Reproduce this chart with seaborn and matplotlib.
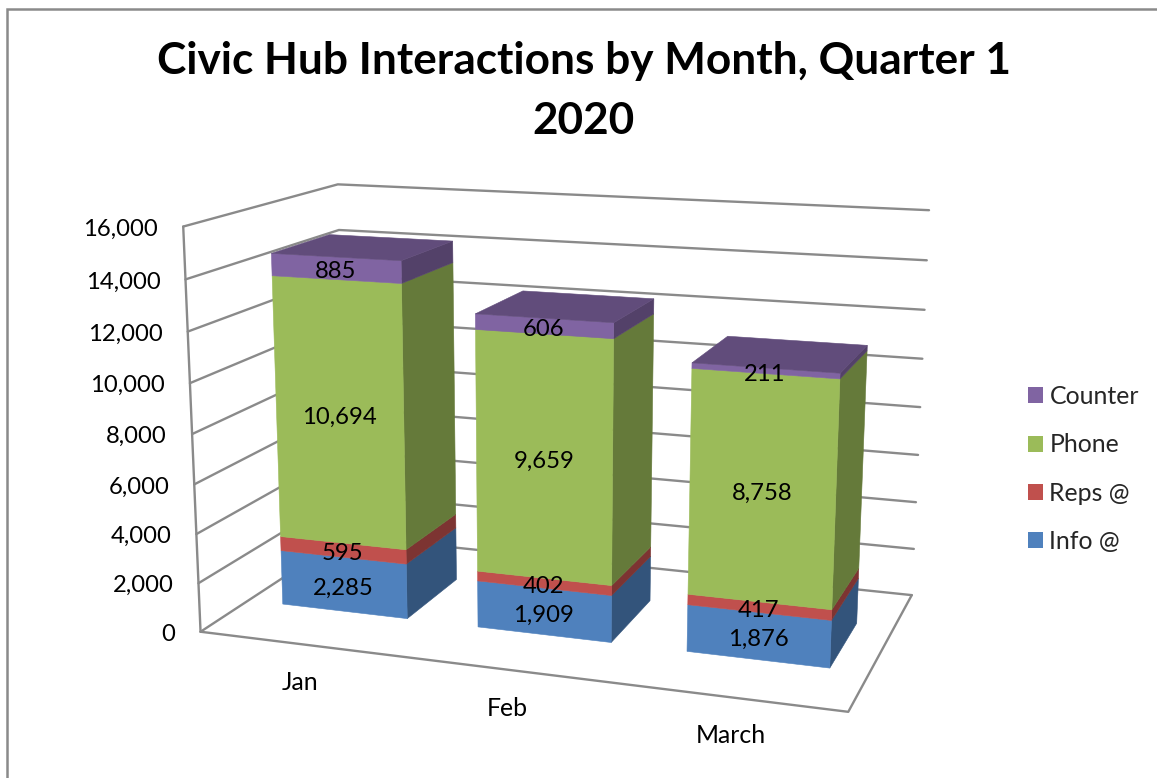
import numpy as np
import pandas as pd
import matplotlib
matplotlib.use("Agg")
import matplotlib.pyplot as plt
from matplotlib.patches import Patch, Polygon
import seaborn as sns

# Chart data
months = ["Jan", "Feb", "March"]
series_names = ["Info @", "Reps @", "Phone", "Counter"]
info = [2285, 1909, 1876]
reps = [595, 402, 417]
phone = [10694, 9659, 8758]
counter = [885, 606, 211]
axis_ticks = [0, 2000, 4000, 6000, 8000, 10000, 12000, 14000, 16000]
chart_title = "Civic Hub Interactions by Month, Quarter 1\n2020"

sns.set_theme(style="white")
plt.rcParams["font.family"] = ["Lato", "DejaVu Sans"]
palette = sns.color_palette(["#4F81BD", "#C0504D", "#9BBB59", "#8064A2"])
line_gray = "#8A8A8A"
AXIS_MAX = 16000.0
BAR_WIDTH = 0.215
BAR_SHIFT = 0.001
DEPTH_FRONT, DEPTH_BACK = 0.30, 0.69
TEXT_DROP = 2.5
VALUE_DROP = 3.5
NUMBER_SIZE = 17.2
WORD_SIZE = 17.9

fig = plt.figure(figsize=(11.57, 7.78), dpi=100)
ax = fig.add_axes([0, 0, 1, 1])
ax.set_xlim(0, 1157)
ax.set_ylim(778, 0)


def camera_matrix():
    """Projective camera for the 3-D plot box (across, height, depth)."""
    box = [(0, 0, 0), (1, 0, 0), (1, 0, 1), (0, 0, 1), (0, 1, 0), (0, 1, 1), (1, 1, 1)]
    screen = [(201, 633), (848, 711), (912, 596), (346, 535), (183, 226), (338, 185), (929, 210)]
    rows = []
    for (u, v, w), (x, y) in zip(box, screen):
        rows.append([u, v, w, 1, 0, 0, 0, 0, -x * u, -x * v, -x * w, -x])
        rows.append([0, 0, 0, 0, u, v, w, 1, -y * u, -y * v, -y * w, -y])
    return np.linalg.svd(np.array(rows, float))[2][-1].reshape(3, 4)


CAMERA = camera_matrix()


def project(u, value, w):
    h = CAMERA @ np.array([u, value / AXIS_MAX, w, 1.0])
    return h[:2] / h[2]


# Walls and floor: one polyline per gridline, running front-left, back-left, back-right
wall_rows = []
for tick in axis_ticks:
    for u, w in [(0, 0), (0, 1), (1, 1)]:
        px, py = project(u, tick, w)
        wall_rows.append({"level": tick, "px": px, "py": py})
edge_paths = {
    "floor": [(0, 0, 0), (1, 0, 0), (1, 0, 1)],
    "post": [(0, 0, 0), (0, AXIS_MAX, 0)],
}
for name, path in edge_paths.items():
    for u, value, w in path:
        px, py = project(u, value, w)
        wall_rows.append({"level": name, "px": px, "py": py})
walls = pd.DataFrame(wall_rows)
sns.lineplot(data=walls, x="px", y="py", units="level", estimator=None, sort=False,
             color=line_gray, linewidth=1.7, legend=False, ax=ax, zorder=1)


def shade(color, factor):
    return tuple(c * factor for c in color)


def face(corners, color, zorder):
    ax.add_patch(Polygon([project(*c) for c in corners], closed=True, facecolor=color,
                         edgecolor=color, linewidth=0.4, zorder=zorder))


stacks = np.array([info, reps, phone, counter], float)
for i, month in enumerate(months):
    center = (i + 0.5) / 3 + BAR_SHIFT
    u0, u1 = center - BAR_WIDTH / 2, center + BAR_WIDTH / 2
    base = 0.0
    for s, color in enumerate(palette):
        top = base + stacks[s, i]
        face([(u1, base, DEPTH_FRONT), (u1, base, DEPTH_BACK),
              (u1, top, DEPTH_BACK), (u1, top, DEPTH_FRONT)], shade(color, 0.65), 2)
        face([(u0, base, DEPTH_FRONT), (u1, base, DEPTH_FRONT),
              (u1, top, DEPTH_FRONT), (u0, top, DEPTH_FRONT)], color, 3)
        lx, ly = project(center, (base + top) / 2, DEPTH_FRONT)
        ax.text(lx, ly + VALUE_DROP, f"{int(stacks[s, i]):,}", ha="center", va="center",
                fontsize=NUMBER_SIZE, color="black", zorder=5)
        base = top
    face([(u0, base, DEPTH_FRONT), (u1, base, DEPTH_FRONT),
          (u1, base, DEPTH_BACK), (u0, base, DEPTH_BACK)], shade(palette[3], 0.76), 4)
    lx, ly = project(center, 0, 0)
    ax.text(lx, ly + 36 + TEXT_DROP, month, ha="center", va="center", fontsize=WORD_SIZE,
            color="black")

# Value-axis labels follow the slanted front post
for tick in axis_ticks:
    px, py = project(0, tick, 0)
    ax.text(px - 25, py + TEXT_DROP, f"{tick:,}", ha="right", va="center",
            fontsize=NUMBER_SIZE, color="black")

ax.text(584, 91, chart_title, ha="center", va="center", fontsize=31.8, fontweight="bold",
        color="black", linespacing=1.6)

handles = [Patch(facecolor=palette[s], edgecolor="none", label=series_names[s])
           for s in reversed(range(len(series_names)))]
ax.legend(handles=handles, loc="center left", bbox_to_anchor=(1028, 469),
          bbox_transform=ax.transData, frameon=False, fontsize=WORD_SIZE, labelspacing=1.02,
          handlelength=0.62, handleheight=0.62, handletextpad=0.24, borderpad=0, borderaxespad=0)

# Chart-area border along the left and top
ax.plot([7, 7, 1157], [778, 9, 9], color=line_gray, linewidth=1.8, zorder=1,
        solid_joinstyle="miter")

ax.set_axis_off()
fig.savefig("out.png", dpi=100, facecolor="white")
